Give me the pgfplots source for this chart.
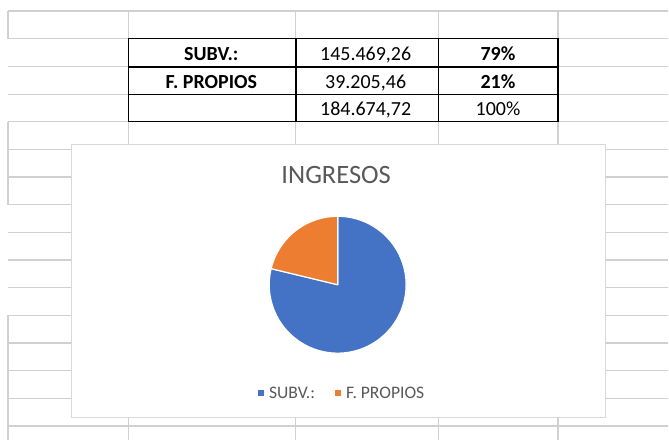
\documentclass[border=0pt]{standalone}
\usepackage{pgfplots}
\pgfplotsset{compat=1.18}
\usepackage{pgfplotstable}
\usepackage{fontspec}
\setmainfont{Carlito}
\usepgflibrary{fpu}
\definecolor{pieblue}{HTML}{4472C4}
\definecolor{pieorange}{HTML}{ED7D31}
\definecolor{gridc}{HTML}{D0D0D0}
\definecolor{chartborder}{HTML}{D9D9D9}
\definecolor{txtgray}{HTML}{595959}

\pgfplotstableread{
label value
SUBV 145469.26
PROPIOS 39205.46
}\datatable
\pgfplotstablegetelem{0}{value}\of\datatable \let\vA\pgfplotsretval
\pgfplotstablegetelem{1}{value}\of\datatable \let\vB\pgfplotsretval
\pgfkeys{/pgf/fpu=true,/pgf/fpu/output format=fixed}
\pgfmathsetmacro{\angA}{90-360*\vA/(\vA+\vB)}
\pgfmathsetmacro{\angB}{\angA+360}
\pgfkeys{/pgf/fpu=false}

\begin{document}
\begin{tikzpicture}
\begin{axis}[
  width=669pt, height=440pt, scale only axis,
  xmin=0, xmax=669, ymin=0, ymax=440, y dir=reverse,
  hide axis, clip=false,
  legend style={at={(axis cs:342.5,393.5)}, anchor=center, draw=none, fill=none,
    font=\fontsize{17.6}{21}\selectfont\color{txtgray}, legend columns=2,
    /tikz/every even column/.append style={column sep=18pt},
    inner sep=0pt},
  legend image code/.code={\fill[#1, draw=none] (0pt,-3pt) rectangle (6pt,3pt);
    \path[draw=none, fill=none] (0pt,0pt) -- (9pt,0pt);},
]
% background
\fill[white] (0,0) rectangle (669,440);
% spreadsheet grid
\pgfplotsinvokeforeach{11,38.7,66.6,94.4,121.8,149.5,177.2,204.9,232.6,260.3,288,315.7,343.4,371.1,398.8,426.5}{
  \draw[gridc, line width=1.3pt] (8,#1) -- (669,#1);
}
\pgfplotsinvokeforeach{128.5,296,439,558.5}{
  \draw[gridc, line width=1.3pt] (#1,11) -- (#1,440);
}
\draw[gridc, line width=1.3pt] (8,11) -- (8,38.7);
\draw[gridc, line width=1.3pt] (8,121.8) -- (8,204.9);
\draw[gridc, line width=1.3pt] (8,315.7) -- (8,440);
% table
\fill[white] (128.5,38.7) rectangle (558.5,121.8);
\draw[black, line width=1.6pt] (128.5,38.7) rectangle (558.5,121.8);
\draw[black, line width=1.6pt] (128.5,66.8) -- (558.5,66.8);
\draw[black, line width=1.6pt] (128.5,94.6) -- (558.5,94.6);
\draw[black, line width=1.6pt] (296,38.7) -- (296,121.8);
\draw[black, line width=1.6pt] (439,38.7) -- (439,121.8);
\node[anchor=base, inner sep=0pt, font=\fontsize{20}{24}\selectfont\bfseries] at (211.5,60.5) {SUBV.:};
\node[anchor=base, inner sep=0pt, font=\fontsize{20}{24}\selectfont\bfseries] at (211.5,88.3) {F. PROPIOS};
\node[anchor=base, inner sep=0pt, font=\fontsize{20}{24}\selectfont] at (366,60.5) {145.469,26};
\node[anchor=base, inner sep=0pt, font=\fontsize{20}{24}\selectfont] at (366,88.3) {39.205,46};
\node[anchor=base, inner sep=0pt, font=\fontsize{20}{24}\selectfont] at (366,116) {184.674,72};
\node[anchor=base, inner sep=0pt, font=\fontsize{20}{24}\selectfont\bfseries] at (498.5,60.5) {79\%};
\node[anchor=base, inner sep=0pt, font=\fontsize{20}{24}\selectfont\bfseries] at (498.5,88.3) {21\%};
\node[anchor=base, inner sep=0pt, font=\fontsize{20}{24}\selectfont] at (498.5,116) {100\%};
% chart area
\filldraw[fill=white, draw=chartborder, line width=1pt] (72,145) rectangle (606,418);
\node[anchor=base, inner sep=0pt, text=txtgray, font=\fontsize{26.5}{31}\selectfont] at (336.5,184) {INGRESOS};
% pie
\addplot[fill=pieblue, draw=white, line width=1.2pt, line join=round,
  domain=\angA:90, samples=150, variable=\t]
  ({338+68.5*cos(\t)}, {285-68.5*sin(\t)}) -- (338,285) -- cycle;
\addlegendentry{SUBV.:}
\addplot[fill=pieorange, draw=white, line width=1.2pt, line join=round,
  domain=90:\angB, samples=60, variable=\t]
  ({338+68.5*cos(\t)}, {285-68.5*sin(\t)}) -- (338,285) -- cycle;
\addlegendentry{F. PROPIOS}
\end{axis}
\end{tikzpicture}
\end{document}
